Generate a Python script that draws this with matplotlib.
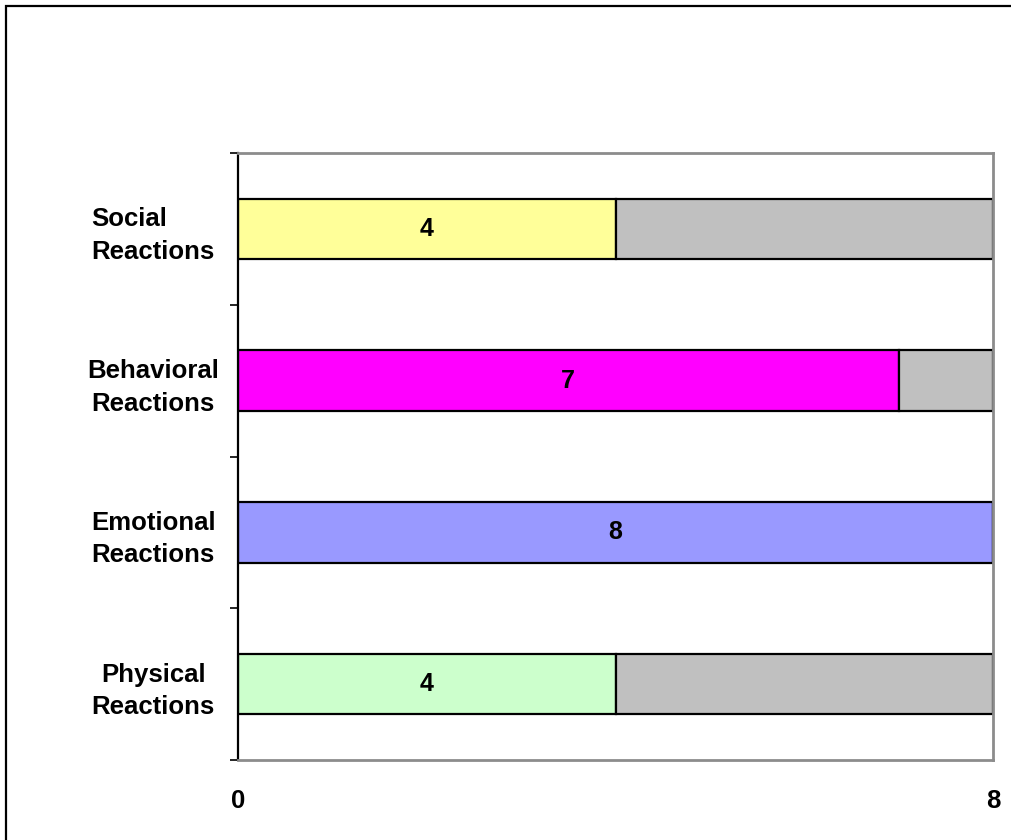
import matplotlib.pyplot as plt
from matplotlib.patches import Rectangle
import numpy as np

plt.rcParams['font.family'] = ['Liberation Sans', 'DejaVu Sans']

# bottom to top
categories = ['Physical\nReactions', 'Emotional\nReactions', 'Behavioral\nReactions', 'Social\nReactions']
values = [4, 8, 7, 4]
max_value = 8
colors = ['#CCFFCC', '#9999FF', '#FF00FF', '#FFFF99']
rest_color = '#C0C0C0'

fig = plt.figure(figsize=(10.11, 8.4), dpi=100)
ax = fig.add_axes([238/1011, 80/840, 755/1011, 607/840])

y = np.arange(len(categories))
rest = [max_value - v for v in values]
ax.barh(y, values, height=0.4, color=colors, edgecolor='black', linewidth=1.6)
ax.barh(y, rest, left=values, height=0.4, color=rest_color, edgecolor='black', linewidth=1.6)

for yi, v in zip(y, values):
    ax.text(v / 2, yi, str(v), ha='center', va='center', fontsize=18, fontweight='bold')

ax.set_xlim(0, max_value)
ax.set_ylim(-0.5, len(categories) - 0.5)
ax.set_xticks([0, max_value])
ax.set_xticklabels(['0', '8'], fontsize=18.5, fontweight='bold')
ax.tick_params(axis='x', length=0, pad=21)

ax.set_yticks(y)
labels = ax.set_yticklabels(categories, fontsize=18.5, fontweight='bold', ha='center', linespacing=1.45)
labels[-1].set_multialignment('left')
ax.tick_params(axis='y', which='major', length=0, pad=61)
ax.set_yticks(np.arange(len(categories) + 1) - 0.5, minor=True)
ax.tick_params(axis='y', which='minor', length=6, width=1.2, color='black')

ax.spines['left'].set_color('black')
ax.spines['left'].set_linewidth(1.6)
for s in ['top', 'right', 'bottom']:
    ax.spines[s].set_color('#8c8c8c')
    ax.spines[s].set_linewidth(2)

# figure frame (top and left edges)
fig.add_artist(Rectangle((6/1011, -0.1), 1.2, 1 - 6/840 + 0.1, transform=fig.transFigure,
                         fill=False, edgecolor='black', linewidth=1.6))

fig.savefig('out.png', dpi=100)
